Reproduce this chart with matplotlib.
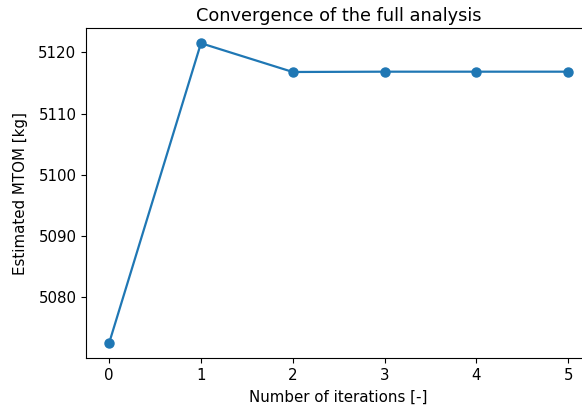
import matplotlib
matplotlib.use('Agg')
import matplotlib.pyplot as plt

iterations = [0, 1, 2, 3, 4, 5]
mtom = [5072.5, 5121.5, 5116.8, 5116.85, 5116.85, 5116.85]

plt.rcParams['font.size'] = 10.8

fig = plt.figure(figsize=(5.82, 4.15), dpi=100)
ax = fig.add_axes([0.148, 0.137, 0.868, 0.795])
ax.plot(iterations, mtom, marker='o', markersize=6.5, linewidth=1.6, color='#1f77b4')
ax.set_title('Convergence of the full analysis', fontsize=12.8, pad=5)
ax.set_xlabel('Number of iterations [-]', labelpad=5)
ax.set_ylabel('Estimated MTOM [kg]', labelpad=7.5)
ax.set_xticks(iterations)
ax.set_yticks([5080, 5090, 5100, 5110, 5120])

fig.savefig('out.png', dpi=100)
